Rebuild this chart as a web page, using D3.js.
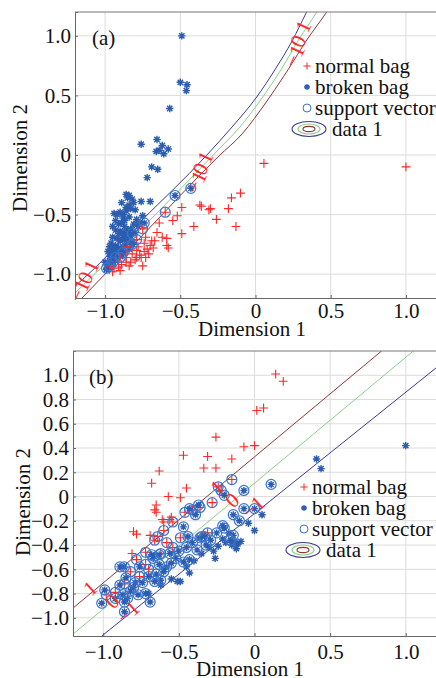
<!DOCTYPE html>
<html>
<head>
<meta charset="utf-8">
<script src="https://cdn.jsdelivr.net/npm/d3@7"></script>
<style>
body { margin: 0; background: #fff; }
</style>
</head>
<body>
<svg id="chart" width="436" height="678"></svg>
<script>
/*
/   Data
*/

const xTickValues = [-1.0, -0.5, 0, 0.5, 1.0];
const xTickLabels = ["−1.0", "−0.5", "0", "0.5", "1.0"];
const yTickValuesA = [-1.0, -0.5, 0, 0.5, 1.0];
const yTickLabelsA = ["−1.0", "−0.5", "0", "0.5", "1.0"];
const yTickValuesB = [-1.0, -0.8, -0.6, -0.4, -0.2, 0, 0.2, 0.4, 0.6, 0.8, 1.0];
const yTickLabelsB = ["−1.0", "−0.8", "−0.6", "−0.4", "−0.2", "0", "0.2", "0.4", "0.6", "0.8", "1.0"];
const legendLabels = ["normal bag", "broken bag", "support vector", "data 1"];

// panel (a)
const normalA = [
    [-0.37,-0.42],[-0.36,-0.43],[-0.30,-0.45],[-0.49,-0.44],[-0.52,-0.51],[-0.49,-0.66],[-0.41,-0.60],
    [-0.55,-0.55],[-0.64,-0.57],[-0.655,-0.65],[-0.59,-0.70],[-0.58,-0.78],[-0.59,-0.76],[-0.67,-0.72],
    [-0.69,-0.72],[-0.72,-0.79],[-0.74,-0.74],[-0.77,-0.84],[-0.75,-0.93],[-0.83,-0.90],[-0.81,-0.75],
    [-0.85,-0.80],[-0.91,-0.94],[-0.89,-0.92],[-0.97,-0.96],[-0.94,-0.95],[-0.76,-0.86],[-0.79,-0.80],
    [-0.71,-0.83],[-0.86,-0.86],[-0.88,-0.84],[-0.80,-0.88],[-0.73,-0.69],[-0.78,-0.77],[0.056,-0.07],
    [1.0,-0.10],[-0.10,-0.32],[-0.16,-0.36],[-0.18,-0.45],[-0.26,-0.54],[-0.13,-0.60],[-0.31,-0.46],
    [-0.93,-0.90],[-0.84,-0.93],[-0.70,-0.76],[-0.62,-0.69],[-0.82,-0.83],[-0.74,-0.81],[-0.68,-0.78],
    [-0.86,-0.90],[-0.79,-0.86],[-0.73,-0.86],[-0.90,-0.97],[-0.95,-0.98]
];
const brokenA = [
    [-0.49,1.0],[-0.50,0.61],[-0.455,0.59],[-0.46,0.54],[-0.57,0.39],[-0.76,0.09],[-0.655,0.13],
    [-0.62,0.08],[-0.66,0.03],[-0.64,0.04],[-0.58,0.05],[-0.61,0.01],[-0.69,-0.10],[-0.65,-0.12],
    [-0.72,-0.19],[-0.76,-0.39],[-0.70,-0.39],[-0.86,-0.33],[-0.84,-0.34],[-0.85,-0.36],[-0.82,-0.37],
    [-0.81,-0.40],[-0.89,-0.40],[-0.83,-0.45],[-0.88,-0.50],[-0.94,-0.49],[-0.92,-0.50],[-0.90,-0.48],
    [-0.75,-0.51],[-0.79,-0.54],[-0.91,-0.58],[-0.89,-0.57],[-0.87,-0.60],[-0.81,-0.58],[-0.78,-0.60],
    [-0.90,-0.64],[-0.88,-0.65],[-0.85,-0.63],[-0.80,-0.65],[-0.83,-0.68],[-0.95,-0.69],[-0.92,-0.70],
    [-0.90,-0.72],[-0.87,-0.71],[-0.85,-0.72],[-0.93,-0.76],[-0.91,-0.78],[-0.88,-0.77],[-0.86,-0.75],
    [-0.95,-0.80],[-0.94,-0.83],[-0.92,-0.82],[-0.89,-0.81],[-0.97,-0.85],[-0.95,-0.87],[-0.93,-0.86],
    [-1.0,-0.90],[-0.98,-0.92],[-0.99,-0.96],[-0.97,-0.89],[-0.96,-0.84],[-0.86,-0.44],[-0.84,-0.52],
    [-0.80,-0.46],[-0.77,-0.57],[-0.93,-0.63],[-0.82,-0.74],[-0.84,-0.79],[-0.90,-0.85],[-0.96,-0.74],
    [-0.98,-0.81],[-0.87,-0.55],[-0.86,-0.67],[-0.83,-0.62],[-0.91,-0.66],[-0.88,-0.69],[-0.94,-0.78],
    [-0.84,-0.42],[-0.86,-0.47],[-0.88,-0.53],[-0.93,-0.55],[-0.95,-0.60],[-0.97,-0.77]
];
// support vectors: [x, y, class] with "n" normal, "b" broken
const svA = [
    [-0.535,-0.34,"b"],[-0.43,-0.28,"b"],[-0.60,-0.48,"n"],[-0.74,-0.57,"b"],[-0.75,-0.62,"n"],
    [-0.82,-0.66,"b"],[-0.79,-0.71,"n"],[-0.82,-0.75,"b"],[-0.99,-0.95,"b"],[-0.85,-0.77,"n"],
    [-0.93,-0.86,"b"],[-0.88,-0.82,"b"],[-0.95,-0.90,"b"],[-0.90,-0.86,"n"],[-0.97,-0.93,"n"]
];
// decision contours (levels 1, 0, -1)
const contourA1 = [[-1.25,-1.15],[-1.199,-1.098],[-0.774,-0.570],[-0.329,-0.008],[-0.156,0.235],
    [0.003,0.478],[0.136,0.729],[0.243,0.956],[0.336,1.19],[0.36,1.25]];
const contourA0 = [[-1.25,-1.22],[-1.199,-1.157],[-0.774,-0.637],[-0.243,0.050],[-0.110,0.226],
    [0.043,0.478],[0.176,0.729],[0.289,0.972],[0.402,1.19],[0.43,1.25]];
const contourAm1 = [[-1.2,-1.26],[-1.159,-1.207],[-0.774,-0.704],[-0.243,-0.008],[-0.090,0.176],
    [0.076,0.453],[0.223,0.729],[0.336,0.956],[0.468,1.19],[0.50,1.25]];
const contourLabelsA = [
    [-1.173,-1.14,"−1"],[-1.133,-1.03,"0"],[-1.093,-0.93,"1"],
    [-0.395,-0.226,"−1"],[-0.369,-0.117,"0"],[-0.336,-0.017,"1"],
    [0.256,0.83,"−1"],[0.282,0.956,"0"],[0.316,1.08,"1"]
];

// panel (b)
const normalB = [
    [0.14,1.01],[0.19,0.95],[0.015,0.71],[0.06,0.73],[-0.255,0.49],[-0.07,0.41],[0.0,0.42],
    [-0.31,0.33],[-0.15,0.31],[-0.335,0.235],[-0.255,0.235],[-0.47,0.34],[-0.63,0.21],[-0.68,0.11],
    [-0.45,0.07],[-0.57,0.0],[-0.49,-0.01],[-0.65,-0.07],[-0.65,-0.13],[-0.61,-0.19],[-0.60,-0.21],
    [-0.80,-0.29],[-0.78,-0.31],[-0.55,-0.17],[-0.69,-0.32],[-0.81,-0.47],[-0.56,-0.19],[-0.66,-0.11]
];
const brokenB = [
    [1.0,0.42],[0.41,0.31],[0.44,0.23],[0.05,-0.15],[-0.04,-0.22],[0.0,-0.28],[-0.26,-0.51],
    [-0.21,-0.35],[-0.13,-0.37],[-0.11,-0.39],[-0.15,-0.40],[-0.24,-0.41],[-0.43,-0.63],[-0.49,-0.70],
    [-0.51,-0.70],[-0.09,-0.37],[-0.12,-0.43],[-0.17,-0.30],[-0.30,-0.42],[-0.35,-0.47],[-0.40,-0.53],
    [-0.45,-0.58],[-0.55,-0.68],[-0.62,-0.73],[-0.70,-0.80],[-0.60,-0.60],[-0.19,-0.38],[-0.27,-0.45]
];
const svB = [
    [-0.15,0.14,"n"],[-0.24,0.08,"n"],[-0.22,0.05,"n"],[-0.28,-0.05,"n"],[-0.36,-0.09,"n"],[-0.41,-0.11,"n"],
    [-0.46,-0.13,"n"],[-0.54,-0.21,"n"],[-0.60,-0.28,"n"],[-0.64,-0.33,"n"],[-0.66,-0.36,"n"],[-0.72,-0.46,"n"],
    [-0.78,-0.52,"n"],[-0.72,-0.56,"n"],[-0.82,-0.62,"n"],[-0.92,-0.79,"n"],[-0.98,-0.81,"n"],[-0.35,-0.33,"n"],
    [-0.58,-0.38,"n"],[-0.54,-0.42,"n"],[-0.70,-0.60,"n"],[-0.76,-0.66,"n"],[-0.86,-0.72,"n"],[-0.49,-0.34,"n"],
    [-0.31,-0.30,"n"],[-0.62,-0.47,"n"],
    [-0.07,0.05,"b"],[0.11,0.10,"b"],[-0.07,-0.10,"b"],[0.0,-0.10,"b"],[-0.14,-0.15,"b"],[-0.21,-0.24,"b"],
    [-0.20,0.01,"b"],[-0.37,-0.07,"b"],[-0.39,-0.15,"b"],[-0.43,-0.10,"b"],[-0.47,-0.25,"b"],[-0.44,-0.33,"b"],
    [-0.41,-0.38,"b"],[-0.36,-0.34,"b"],[-0.33,-0.33,"b"],[-0.29,-0.36,"b"],[-0.14,-0.32,"b"],[-0.16,-0.36,"b"],
    [-0.32,-0.40,"b"],[-0.38,-0.44,"b"],[-0.43,-0.52,"b"],[-0.47,-0.54,"b"],[-0.52,-0.51,"b"],[-0.56,-0.47,"b"],
    [-0.63,-0.48,"b"],[-0.67,-0.51,"b"],[-0.68,-0.48,"b"],[-0.76,-0.58,"b"],[-0.86,-0.58,"b"],[-0.89,-0.58,"b"],
    [-0.85,-0.67,"b"],[-0.65,-0.64,"b"],[-0.62,-0.69,"b"],[-0.66,-0.70,"b"],[-0.79,-0.71,"b"],[-0.74,-0.71,"b"],
    [-0.80,-0.75,"b"],[-0.89,-0.73,"b"],[-0.99,-0.77,"b"],[-0.87,-0.81,"b"],[-0.84,-0.84,"b"],[-0.86,-0.87,"b"],
    [-0.77,-0.81,"b"],[-0.72,-0.80,"b"],[-0.69,-0.87,"b"],[-1.01,-0.88,"b"],[-0.92,-0.84,"b"],[-0.86,-0.95,"b"],
    [-0.58,-0.58,"b"],[-0.60,-0.62,"b"],[-0.55,-0.55,"b"],[-0.50,-0.45,"b"],[-0.45,-0.42,"b"],[-0.25,-0.30,"b"],
    [-0.20,-0.26,"b"],[-0.10,-0.20,"b"],[-0.63,-0.56,"b"],[-0.70,-0.66,"b"],[-0.82,-0.78,"b"]
];
const contourB1 = [[-1.2,-0.92],[0.84,1.2]];
const contourB0 = [[-1.2,-1.135],[1.05,1.2]];
const contourBm1 = [[-1.01,-1.15],[1.2,1.06]];
const contourLabelsB = [
    [-1.087,-0.755,"1"],[-0.942,-0.862,"0"],[-0.836,-0.952,"−1"],
    [-0.248,0.078,"1"],[-0.149,-0.029,"0"],[-0.01,-0.087,"−1"]
];

/*
/   Styles
*/

const svg = d3.select("#chart");
const serif = '"Liberation Serif", "Times New Roman", serif';
const red = "#ff2626";
const blue = "#2b5caf";
const svBlue = "#3a74cc";
const lineColors = ["#3d3a8c", "#8ccf8c", "#8e3535"];  // level 1, 0, -1 in (a)
const fontSize = 21;

function plusPath(s) {
    return `M${-s},0H${s}M0,${-s}V${s}`;
}

function starPath(s) {
    const d = s * 0.72;
    return `M${-s},0H${s}M0,${-s}V${s}M${-d},${-d}L${d},${d}M${-d},${d}L${d},${-d}`;
}

/*
/   Panel drawing
*/

function drawPanel(p) {
    const g = svg.append("g");
    const x = d3.scaleLinear().domain([-1.2, 1.2]).range([p.left, p.right]);
    const y = d3.scaleLinear().domain(p.yDomain).range([p.bottom, p.top]);

    // grid
    g.append("g").selectAll("line")
        .data(xTickValues)
        .join("line")
        .attr("x1", d => x(d)).attr("x2", d => x(d))
        .attr("y1", p.top).attr("y2", p.bottom)
        .attr("stroke", "#dcdcdc");
    g.append("g").selectAll("line")
        .data(p.yTicks)
        .join("line")
        .attr("x1", p.left).attr("x2", p.right)
        .attr("y1", d => y(d)).attr("y2", d => y(d))
        .attr("stroke", "#dcdcdc");

    const clipId = "clip-" + p.name;
    svg.append("clipPath").attr("id", clipId)
        .append("rect")
        .attr("x", p.left).attr("y", p.top)
        .attr("width", p.right - p.left).attr("height", p.bottom - p.top);

    // contour lines
    const line = d3.line().x(d => x(d[0])).y(d => y(d[1])).curve(d3.curveMonotoneX);
    g.append("g").attr("clip-path", `url(#${clipId})`)
        .selectAll("path")
        .data(p.contours)
        .join("path")
        .attr("d", d => line(d.pts))
        .attr("fill", "none")
        .attr("stroke", d => d.color)
        .attr("stroke-width", 1);

    // points
    g.append("g").selectAll("path")
        .data(p.normal)
        .join("path")
        .attr("transform", d => `translate(${x(d[0])},${y(d[1])})`)
        .attr("d", plusPath(4.4))
        .attr("stroke", red)
        .attr("stroke-width", 1.1)
        .attr("fill", "none");

    g.append("g").selectAll("path")
        .data(p.broken)
        .join("path")
        .attr("transform", d => `translate(${x(d[0])},${y(d[1])})`)
        .attr("d", starPath(3.7))
        .attr("stroke", blue)
        .attr("stroke-width", 1.4)
        .attr("fill", "none");

    const sv = g.append("g").selectAll("g")
        .data(p.sv)
        .join("g")
        .attr("transform", d => `translate(${x(d[0])},${y(d[1])})`);
    sv.append("path")
        .attr("d", d => d[2] == "n" ? plusPath(4.4) : starPath(3.5))
        .attr("stroke", d => d[2] == "n" ? red : blue)
        .attr("stroke-width", d => d[2] == "n" ? 1.1 : 1.4)
        .attr("fill", "none");
    sv.append("circle")
        .attr("r", 5)
        .attr("fill", "none")
        .attr("stroke", svBlue)
        .attr("stroke-width", 1.2);

    // contour labels
    g.append("g").selectAll("text")
        .data(p.labels)
        .join("text")
        .attr("transform", d => `translate(${x(d[0])},${y(d[1])}) rotate(${p.labelAngle})`)
        .attr("text-anchor", "middle")
        .attr("dy", "0.35em")
        .attr("fill", red)
        .attr("font-size", 21)
        .text(d => d[2]);

    // axes
    const xAxis = d3.axisBottom(x)
        .tickValues(xTickValues)
        .tickFormat((d, i) => xTickLabels[i])
        .tickSize(-3)
        .tickPadding(p.xPad);
    const yAxis = d3.axisLeft(y)
        .tickValues(p.yTicks)
        .tickFormat((d, i) => p.yLabels[i])
        .tickSize(-3)
        .tickPadding(4);

    const gx = g.append("g").attr("transform", `translate(0,${p.bottom})`).call(xAxis);
    const gy = g.append("g").attr("transform", `translate(${p.left},0)`).call(yAxis);
    for (const ax of [gx, gy]) {
        ax.attr("font-size", fontSize);
        ax.select(".domain").attr("stroke", "#666");
        ax.selectAll(".tick line").attr("stroke", "#666");
        ax.selectAll(".tick text").attr("fill", "#111");
    }
    g.append("line")
        .attr("x1", p.left).attr("x2", p.right)
        .attr("y1", p.top).attr("y2", p.top)
        .attr("stroke", "#777");

    // axis titles
    g.append("text")
        .attr("x", p.xTitle[0]).attr("y", p.xTitle[1])
        .attr("text-anchor", "middle")
        .attr("font-size", fontSize)
        .attr("fill", "#111")
        .text("Dimension 1");
    g.append("text")
        .attr("transform", `translate(${p.yTitle[0]},${p.yTitle[1]}) rotate(-90)`)
        .attr("text-anchor", "middle")
        .attr("font-size", fontSize)
        .attr("fill", "#111")
        .text("Dimension 2");

    // panel tag
    g.append("text")
        .attr("x", p.tag[0]).attr("y", p.tag[1])
        .attr("font-size", fontSize)
        .attr("fill", "#111")
        .text(p.name == "a" ? "(a)" : "(b)");

    // legend
    const lg = g.append("g").attr("transform", `translate(${p.legend[0]},${p.legend[1]})`);
    const rowH = 21;
    lg.append("path").attr("d", plusPath(3.6)).attr("stroke", red).attr("fill", "none");
    lg.append("path").attr("transform", `translate(0,${rowH})`).attr("d", starPath(3))
        .attr("stroke", blue).attr("stroke-width", 1.3).attr("fill", "none");
    lg.append("circle").attr("cy", 2 * rowH).attr("r", 4)
        .attr("fill", "none").attr("stroke", svBlue);
    const ell = lg.append("g").attr("transform", `translate(${p.ellX},${3 * rowH})`);
    [[17, 7.5], [11, 5], [6, 2.6]].forEach((r, i) => {
        ell.append("ellipse").attr("rx", r[0]).attr("ry", r[1])
            .attr("fill", "none").attr("stroke", lineColors[i]).attr("stroke-width", 1.1);
    });
    lg.selectAll("text")
        .data(legendLabels)
        .join("text")
        .attr("x", (d, i) => i == 3 ? p.ellTextX : 8)
        .attr("y", (d, i) => i * rowH)
        .attr("dy", "0.32em")
        .attr("font-size", fontSize)
        .attr("fill", "#111")
        .text(d => d);
}

drawPanel({
    name: "a", left: 75, right: 436, top: 12, bottom: 298,
    yDomain: [-1.2, 1.2], yTicks: yTickValuesA, yLabels: yTickLabelsA, xPad: 5,
    normal: normalA, broken: brokenA, sv: svA,
    contours: [
        { pts: contourA1, color: lineColors[0] },
        { pts: contourA0, color: lineColors[1] },
        { pts: contourAm1, color: lineColors[2] }
    ],
    labels: contourLabelsA, labelAngle: -65,
    xTitle: [252, 336], yTitle: [27, 158], tag: [92, 45],
    legend: [307, 66], ellX: 2, ellTextX: 25
});

drawPanel({
    name: "b", left: 73, right: 436, top: 351, bottom: 636,
    yDomain: [-1.15, 1.2], yTicks: yTickValuesB, yLabels: yTickLabelsB, xPad: 8,
    normal: normalB, broken: brokenB, sv: svB,
    contours: [
        { pts: contourB1, color: lineColors[2] },
        { pts: contourB0, color: lineColors[1] },
        { pts: contourBm1, color: lineColors[0] }
    ],
    labels: contourLabelsB, labelAngle: -42,
    xTitle: [250, 676], yTitle: [30, 502], tag: [89, 384],
    legend: [304, 487], ellX: -1, ellTextX: 22
});

// serif everywhere, set inline so nothing overrides it
svg.selectAll("text").style("font-family", serif);
</script>
</body>
</html>
